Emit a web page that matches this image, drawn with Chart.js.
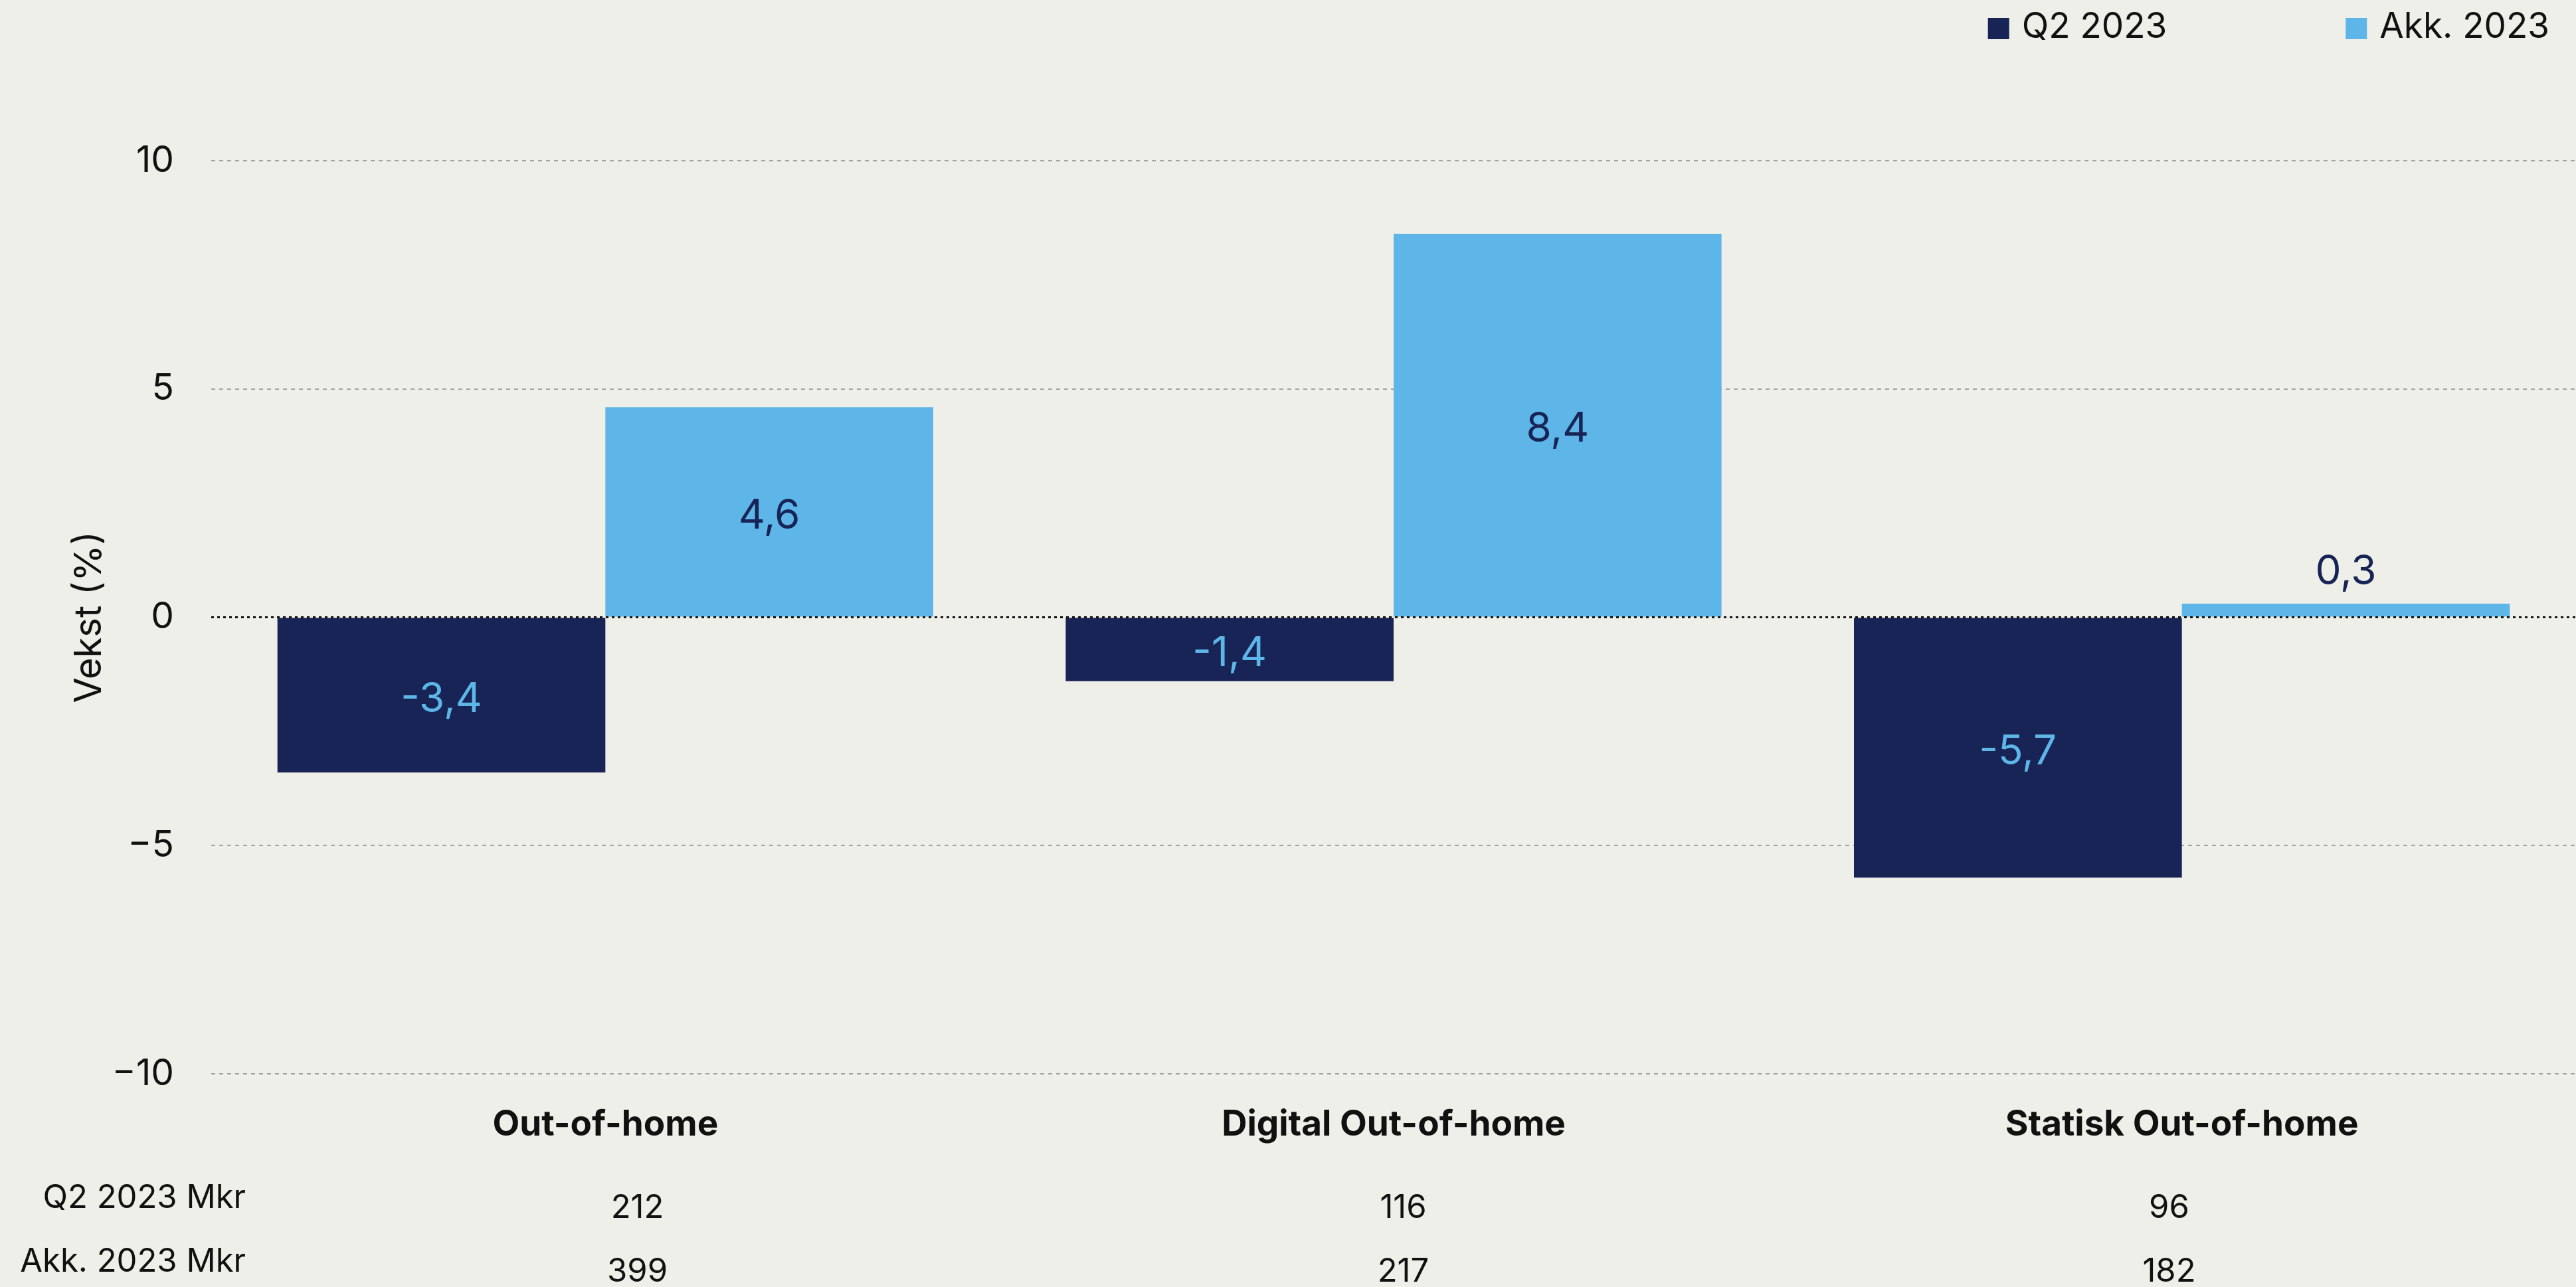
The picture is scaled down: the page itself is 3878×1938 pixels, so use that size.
<!DOCTYPE html>
<html lang="no">
<head>
<meta charset="utf-8">
<title>Vekst Out-of-home</title>
<script src="https://cdn.jsdelivr.net/npm/chart.js@4.4.1/dist/chart.umd.min.js"></script>
<style>
  html, body { margin: 0; padding: 0; background: #efefe9; }
  #wrap { width: 3878px; height: 1938px; position: relative; }
</style>
</head>
<body>
<div id="wrap"><canvas id="vekstChart"></canvas></div>
<script>
const categories = ['Out-of-home', 'Digital Out-of-home', 'Statisk Out-of-home'];
const seriesNames = ['Q2 2023', 'Akk. 2023'];
const q2Growth = [-3.4, -1.4, -5.7];
const akkGrowth = [4.6, 8.4, 0.3];
const yTicks = [-10, -5, 0, 5, 10];
const tableRows = ['Q2 2023 Mkr', 'Akk. 2023 Mkr'];
const q2Mkr = [212, 116, 96];
const akkMkr = [399, 217, 182];

const NAVY = '#172455';
const SKY = '#5db5e8';
const FONT = 'Inter';

const fmt = v => v.toFixed(1).replace('.', ',');

// dotted zero line, drawn on top of the bars
const zeroLine = {
  id: 'zeroLine',
  afterDatasetsDraw(chart) {
    const { ctx, chartArea } = chart;
    const y = chart.scales.y.getPixelForValue(0);
    ctx.save();
    ctx.strokeStyle = '#111';
    ctx.lineWidth = 3;
    ctx.setLineDash([4, 5]);
    ctx.beginPath();
    ctx.moveTo(chartArea.left, y);
    ctx.lineTo(chartArea.right, y);
    ctx.stroke();
    ctx.restore();
  }
};

// value labels inside the bars, or above when the bar is too thin
const valueLabels = {
  id: 'valueLabels',
  afterDatasetsDraw(chart) {
    const { ctx } = chart;
    ctx.save();
    ctx.font = '62px ' + FONT;
    ctx.textAlign = 'center';
    ctx.textBaseline = 'middle';
    chart.data.datasets.forEach((ds, di) => {
      const meta = chart.getDatasetMeta(di);
      meta.data.forEach((bar, i) => {
        const v = ds.data[i];
        const h = Math.abs(bar.base - bar.y);
        if (h > 70) {
          ctx.fillStyle = di === 0 ? SKY : NAVY;
          ctx.fillText(fmt(v), bar.x, (bar.y + bar.base) / 2 + 6);
        } else {
          ctx.fillStyle = NAVY;
          const y = v >= 0 ? Math.min(bar.y, bar.base) - 48 : Math.max(bar.y, bar.base) + 54;
          ctx.fillText(fmt(v), bar.x, y);
        }
      });
    });
    ctx.restore();
  }
};

// legend in the top right corner
const cornerLegend = {
  id: 'cornerLegend',
  afterDraw(chart) {
    const { ctx, width } = chart;
    const box = 32, gap = 19, itemGap = 269;
    ctx.save();
    ctx.font = '53px ' + FONT;
    ctx.textBaseline = 'middle';
    ctx.textAlign = 'left';
    const items = chart.data.datasets.map(ds => ({
      label: ds.label, color: ds.backgroundColor, w: box + gap + ctx.measureText(ds.label).width
    }));
    const total = items.reduce((s, it) => s + it.w, 0) + itemGap * (items.length - 1);
    let x = width - 40 - total;
    items.forEach(it => {
      ctx.fillStyle = it.color;
      ctx.fillRect(x, 27, box, box);
      ctx.fillStyle = '#111';
      ctx.fillText(it.label, x + box + gap, 41);
      x += it.w + itemGap;
    });
    ctx.restore();
  }
};

// Mkr rows under the category labels, in three equal columns
const mkrTable = {
  id: 'mkrTable',
  afterDraw(chart) {
    const { ctx, chartArea, width } = chart;
    const rows = [q2Mkr, akkMkr];
    const colLeft = 383, colRight = width - 36;
    const colW = (colRight - colLeft) / categories.length;
    ctx.save();
    ctx.font = '49px ' + FONT;
    ctx.fillStyle = '#111';
    ctx.textBaseline = 'middle';
    rows.forEach((vals, r) => {
      const yLabel = chartArea.bottom + 187 + r * 96;
      ctx.textAlign = 'right';
      ctx.fillText(tableRows[r], 370, yLabel);
      ctx.textAlign = 'center';
      vals.forEach((v, i) => {
        ctx.fillText(String(v), colLeft + colW * (i + 0.5), yLabel + 15);
      });
    });
    ctx.restore();
  }
};

const ctx = document.getElementById('vekstChart').getContext('2d');
new Chart(ctx, {
  type: 'bar',
  data: {
    labels: categories,
    datasets: [
      { label: seriesNames[0], data: q2Growth, backgroundColor: NAVY },
      { label: seriesNames[1], data: akkGrowth, backgroundColor: SKY },
    ],
  },
  options: {
    responsive: true,
    maintainAspectRatio: false,
    animation: false,
    datasets: {
      bar: { categoryPercentage: 0.832, barPercentage: 1.0 },
    },
    layout: {
      padding: { top: 242, right: 0, bottom: 0, left: 0 },
    },
    plugins: {
      legend: { display: false },
      tooltip: { enabled: false },
    },
    scales: {
      x: {
        grid: { display: false },
        border: { display: false },
        ticks: {
          color: '#111',
          padding: 37,
          font: { family: FONT, size: 53, weight: 'bold' },
        },
        afterFit: (scale) => { scale.height = 321; },
      },
      y: {
        min: -10,
        max: 10,
        afterBuildTicks: (scale) => { scale.ticks = yTicks.map(v => ({ value: v })); },
        grid: {
          color: (c) => (c.tick && c.tick.value === 0 ? 'rgba(0,0,0,0)' : '#a3a3a0'),
          lineWidth: 2,
          drawTicks: false,
        },
        border: { display: false, dash: [6, 6] },
        ticks: {
          color: '#111',
          padding: 56,
          font: { family: FONT, size: 55 },
          callback: (v) => String(v).replace('-', '\u2212'),
        },
        title: {
          display: true,
          text: 'Vekst (%)',
          color: '#111',
          font: { family: FONT, size: 56 },
          padding: { top: 102, bottom: 0 },
        },
        afterFit: (scale) => { scale.width = 318; },
      },
    },
  },
  plugins: [zeroLine, valueLabels, cornerLegend, mkrTable],
});
</script>
</body>
</html>
